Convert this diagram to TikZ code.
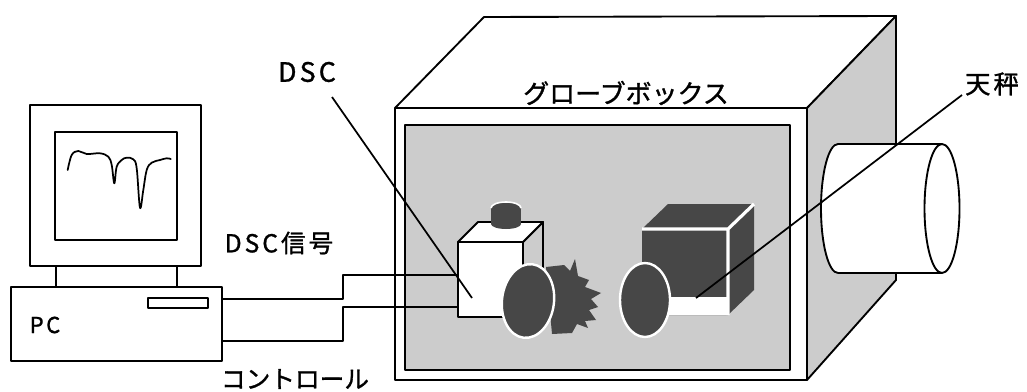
\documentclass[tikz,border=0pt]{standalone}
\usepackage{fontspec}
\newfontfamily\jp[FakeBold=1.2]{Noto Sans CJK JP}
\newfontfamily\jpls[LetterSpace=12,FakeBold=1.2]{Noto Sans CJK JP}
\begin{document}
\begin{tikzpicture}[x=0.75pt,y=-0.75pt,line join=round,
  wall/.style={draw=black,line width=1.4pt},
  stip/.style={fill=black!20},
  dark/.style={fill=black!72},
  rim/.style={draw=white,line width=1.8pt},
  wire/.style={draw=black,line width=1.1pt},
  lead/.style={draw=black,line width=1.3pt},
  lab/.style={inner sep=0pt,font=\jp}]
\useasboundingbox (0,0) rectangle (1027,392);

% ---------------- glove box ----------------
\coordinate (gbA) at (395,108);   % front top left
\coordinate (gbB) at (807,108);   % front top right
\coordinate (gbC) at (807,380);   % front bottom right
\coordinate (gbD) at (395,380);   % front bottom left
\fill[white] (gbA) -- (484,17) -- (896,16) -- (gbB) -- cycle;
\draw[wall] (gbA) -- (484,17) -- (896,16) -- (gbB);
\path[stip,wall] (gbB) -- (896,16) -- (896,280) -- (gbC) -- cycle;
\path[fill=white,wall] (gbA) rectangle (gbC);
\path[stip,wall] (405,125) rectangle (790,370);

% port tube on the side wall
\fill[white] (838,144) rectangle (942,273);
\fill[white] (838,208.5) ellipse [x radius=17,y radius=64.5];
\fill[white] (942,208.5) ellipse [x radius=17.5,y radius=64.5];
\draw[wall] (838,273) arc [start angle=90,end angle=270,x radius=17,y radius=64.5]
  -- (942,144);
\draw[wall] (838,273) -- (942,273);
\draw[wall] (942,208.5) ellipse [x radius=17.5,y radius=64.5];

% ---------------- DSC unit ----------------
\coordinate (dscW1) at (458,275);
\coordinate (dscW2) at (458,307);
\coordinate (dscTip) at (472,298);
\path[stip,wall] (523,242) -- (543,222) -- (543,297) -- (523,317) -- cycle;
\path[fill=white,wall] (458,242) -- (478,222) -- (543,222) -- (523,242) -- cycle;
\path[fill=white,wall] (458,242) rectangle (523,317);
% cap on top
\fill[black!72] (491,208) rectangle (521,224);
\fill[black!72] (506,224) ellipse [x radius=15,y radius=5];
\fill[black!72] (506,208) ellipse [x radius=15,y radius=6];
\draw[white,line width=1.2pt] (491,208) arc [start angle=180,end angle=0,x radius=15,y radius=-6];

% furnace burst and lid
\fill[black!72] (546,267) -- (564,265) -- (570,271) -- (575,259) -- (578,276)
  -- (589,280) -- (585,287) -- (601,293) -- (591,299) -- (598,307) -- (589,310)
  -- (596,320) -- (585,321) -- (588,328) -- (577,324) -- (572,333) -- (552,334) -- cycle;
\path[dark,rim,rotate around={-7:(528,301)}] (528,301) ellipse [x radius=26,y radius=37];

% ---------------- balance ----------------
\coordinate (balTip) at (696,298);
\fill[black!72] (642,229) -- (668,204) -- (754,204) -- (754,290) -- (728,315) -- (642,315) -- cycle;
\fill[white] (642,297) rectangle (728,315);
\draw[white,line width=2.4pt] (642,229) -- (728,229) -- (728,315) (728,229) -- (754,204);
\path[dark,rim] (645,300) ellipse [x radius=25,y radius=37];

% ---------------- PC ----------------
\coordinate (pcE1) at (222,299);
\coordinate (pcE2) at (222,341);
\path[fill=white,wall] (30,105) rectangle (201,266);
\path[fill=white,wall] (55,132) rectangle (177,240);
\draw[wall] (56,266) -- (56,287) (177,266) -- (177,287);
\path[fill=white,wall] (11,287) rectangle (222,361);
\draw[line width=1.1pt] (148,298) rectangle (208,308);
\draw[line width=1.3pt,line cap=round] plot[smooth,tension=0.6] coordinates {
  (67.7,170) (71.7,155) (78.3,151) (86.7,154) (100,153.3) (108.3,156.7)
  (111.7,165) (114.3,183.3) (116.7,166.7) (121.7,160) (126.7,157.7)
  (133.3,159.3) (136.7,168.3) (140,207.7) (143.3,190) (146.7,170)
  (151.7,162.7) (160,160) (166.7,158.3) (170.7,159)};

% ---------------- cables ----------------
\draw[wire] (pcE1) -- (343,299) -- (343,275) -- (dscW1);
\draw[wire] (pcE2) -- (343,341) -- (343,307) -- (dscW2);

% ---------------- labels and leaders ----------------
\node[lab,font=\jpls\fontsize{20}{20}\selectfont] (dscL) at (307,72) {DSC};
\coordinate (dscLe) at (332,97);
\draw[lead] (dscLe) -- (dscTip);

\node[lab,font=\jp\fontsize{19.5}{20}\selectfont] (gbL) at (626,93) {グローブボックス};

\node[lab,font=\jpls\fontsize{19}{20}\selectfont] (balL) at (992,84) {天秤};
\coordinate (balLe) at (962,95);
\draw[lead] (balLe) -- (balTip);

\node[lab,font=\jpls\fontsize{18.5}{20}\selectfont] (sigL) at (279,243) {DSC信号};
\node[lab,font=\jpls\fontsize{16.5}{20}\selectfont] (pcL) at (45,325) {PC};
\node[lab,font=\jp\fontsize{18.5}{20}\selectfont] (ctlL) at (295,379) {コントロール};
\end{tikzpicture}
\end{document}
